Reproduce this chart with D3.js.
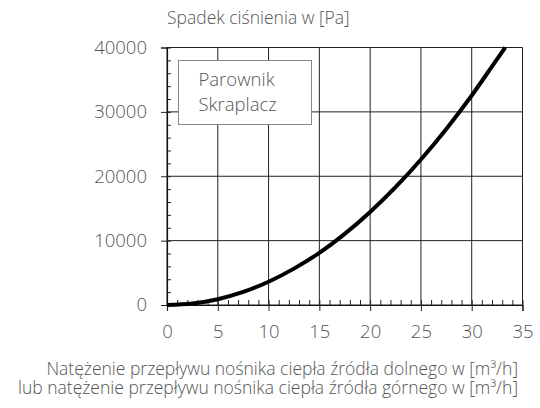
<!DOCTYPE html>
<html>
<head>
<meta charset="utf-8">
<script src="https://cdn.jsdelivr.net/npm/d3@7"></script>
<style>
  body { margin: 0; background: #fff; }
  text { font-family: 'Open Sans', 'Liberation Sans', Arial, sans-serif; font-weight: 300; fill: #555; }
</style>
</head>
<body>
<svg id="chart" width="540" height="408"></svg>
<script>
// flow [m3/h] and pressure drop [Pa]
const flow = [0, 2.5, 5, 7.5, 10, 12.5, 15, 17.5, 20, 22.5, 25, 27.5, 30, 32.5, 33.3];
const pressure = [0, 230, 900, 2030, 3620, 5650, 8100, 11050, 14450, 18300, 22600, 27350, 32550, 38200, 40000];
const xTicks = [0, 5, 10, 15, 20, 25, 30, 35];
const yTicks = [0, 10000, 20000, 30000, 40000];
const legendItems = ['Parownik', 'Skraplacz'];
const xLabel = ['Natężenie przepływu nośnika ciepła źródła dolnego w [m³/h]',
  'lub natężenie przepływu nośnika ciepła źródła górnego w [m³/h]'];
const yLabel = 'Spadek ciśnienia w [Pa]';

const svg = d3.select('#chart');
const margin = { top: 47.5, right: 17.5, bottom: 103, left: 167 };
const width = 540 - margin.left - margin.right;
const height = 408 - margin.top - margin.bottom;

const chart = svg.append('g')
  .attr('transform', `translate(${margin.left}, ${margin.top})`);

const x = d3.scaleLinear().domain([0, 35]).range([0, width]);
const y = d3.scaleLinear().domain([0, 40000]).range([height, 0]);

// grid
chart.append('g')
  .selectAll('line')
  .data(xTicks)
  .enter().append('line')
  .attr('x1', d => x(d)).attr('x2', d => x(d))
  .attr('y1', 0).attr('y2', height)
  .attr('stroke', '#222').attr('stroke-width', 1);

chart.append('g')
  .selectAll('line')
  .data(yTicks)
  .enter().append('line')
  .attr('x1', 0).attr('x2', width)
  .attr('y1', d => y(d)).attr('y2', d => y(d))
  .attr('stroke', '#222').attr('stroke-width', 1);

// minor ticks (inside)
chart.append('g')
  .call(d3.axisRight(y).ticks(20).tickSize(4).tickFormat(''))
  .call(g => g.select('.domain').remove())
  .selectAll('line').attr('stroke', '#222');

chart.append('g')
  .attr('transform', `translate(0, ${height})`)
  .call(d3.axisTop(x).ticks(35).tickSize(5).tickFormat(''))
  .call(g => g.select('.domain').remove())
  .selectAll('line').attr('stroke', '#222');

// main axes
const yAxis = chart.append('g')
  .call(d3.axisLeft(y).tickValues(yTicks).tickSize(6).tickPadding(14).tickFormat(d3.format('d')));
const xAxis = chart.append('g')
  .attr('transform', `translate(0, ${height})`)
  .call(d3.axisBottom(x).tickValues(xTicks).tickSize(6).tickPadding(14));

[xAxis, yAxis].forEach(a => {
  a.select('.domain').attr('stroke', '#111').attr('stroke-width', 1.2);
  a.selectAll('line').attr('stroke', '#222');
  a.selectAll('text')
    .style('font-family', "'Open Sans', 'Liberation Sans', Arial, sans-serif")
    .style('font-weight', 300)
    .style('font-size', '18.5px')
    .attr('fill', '#555');
});

// curve
const line = d3.line()
  .x((d, i) => x(flow[i]))
  .y(d => y(d))
  .curve(d3.curveMonotoneX);

chart.append('path')
  .datum(pressure)
  .attr('d', line)
  .attr('fill', 'none')
  .attr('stroke', '#000')
  .attr('stroke-width', 4);

// legend
const legend = chart.append('g')
  .attr('transform', `translate(${178.5 - margin.left}, ${60.5 - margin.top})`);
legend.append('rect')
  .attr('width', 133).attr('height', 64)
  .attr('fill', '#fff').attr('stroke', '#888').attr('stroke-width', 1);
legend.selectAll('text')
  .data(legendItems)
  .enter().append('text')
  .attr('x', 20)
  .attr('y', (d, i) => 25.5 + i * 25)
  .style('font-size', '18.5px')
  .text(d => d);

// titles
svg.append('text')
  .attr('x', margin.left)
  .attr('y', 24)
  .style('font-size', '17.5px')
  .text(yLabel);

svg.append('text')
  .attr('text-anchor', 'end')
  .style('font-size', '17.5px')
  .selectAll('tspan')
  .data(xLabel)
  .enter().append('tspan')
  .attr('x', 518)
  .attr('y', (d, i) => 375 + i * 18.5)
  .text(d => d);
</script>
</body>
</html>
